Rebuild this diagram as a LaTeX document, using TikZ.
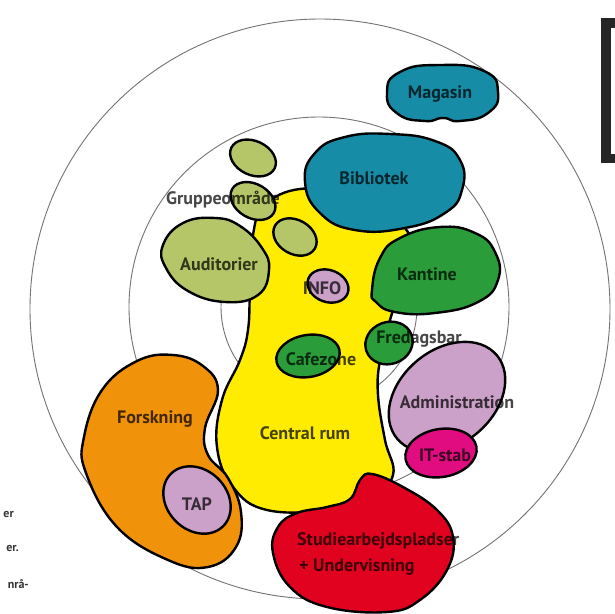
\documentclass[tikz,border=0pt]{standalone}
\usepackage{fontspec}
\setmainfont{PT Sans}
\definecolor{cyellow}{RGB}{255,236,0}
\definecolor{cteal}{RGB}{22,140,166}
\definecolor{colive}{RGB}{181,198,104}
\definecolor{cgreen}{RGB}{42,156,58}
\definecolor{clilac}{RGB}{203,160,201}
\definecolor{cmagenta}{RGB}{224,12,128}
\definecolor{corange}{RGB}{240,146,10}
\definecolor{cred}{RGB}{224,2,30}
\begin{document}
\begin{tikzpicture}[x=1pt,y=-1pt,
  ring/.style={draw=black!55, line width=0.9pt},
  blob/.style={draw=black, line width=2.4pt, line join=round},
  lbl/.style={font=\fontsize{18}{21}\selectfont\bfseries, text=black, text opacity=0.72, inner sep=0pt},
  side/.style={font=\fontsize{12}{13}\selectfont\bfseries, text=black!80, inner sep=0pt, anchor=east}]
\useasboundingbox (0,0) rectangle (614,614);
\fill[white] (0,0) rectangle (614,614);

% concentric zones
\draw[ring] (320,309) circle [radius=290pt];
\draw[ring] (319,307) circle [radius=190pt];
\draw[ring] (319,307) circle [radius=98pt];

% framed panel at the right edge
\fill[black!85] (601,18) rectangle (640,163);
\fill[white] (611,28) rectangle (640,154);

% central room
\draw[blob, fill=cyellow] plot[smooth cycle, tension=0.7] coordinates {
  (265,205) (300,189) (345,195) (390,215) (412,245) (400,290) (390,320)
  (380,360) (378,395) (385,440) (393,475) (370,498) (330,510) (267,510)
  (233,487) (217,447) (222,400) (240,360) (248,330) (250,290) (253,235)};

% library and stacks
\draw[blob, fill=cteal] plot[smooth cycle, tension=0.8] coordinates {
  (305,182) (315,153) (345,137) (390,134) (435,141) (460,160) (462,190)
  (445,213) (405,228) (355,230) (320,213)};
\draw[blob, fill=cteal] plot[smooth cycle, tension=0.9] coordinates {
  (387,93) (400,72) (440,65) (484,71) (498,92) (488,113) (460,121)
  (443,118) (425,121) (398,114)};

% group areas and auditoriums
\draw[blob, fill=colive] (253,158) ellipse [x radius=24pt, y radius=17pt, rotate=-25];
\draw[blob, fill=colive] (253,201) ellipse [x radius=24pt, y radius=17pt, rotate=-30];
\draw[blob, fill=colive] (295,237) ellipse [x radius=23pt, y radius=17pt, rotate=-30];
\draw[blob, fill=colive] plot[smooth cycle, tension=0.75] coordinates {
  (163,245) (183,223) (215,218) (240,226) (262,248) (269,270) (258,295)
  (225,302) (188,291) (166,268)};

% canteen, bar, cafe
\draw[blob, fill=cgreen] plot[smooth cycle, tension=0.8] coordinates {
  (372,290) (380,258) (400,238) (440,227) (475,233) (495,252) (498,280)
  (478,302) (435,313) (395,312) (376,302)};
\draw[blob, fill=cgreen] (389,343) ellipse [x radius=24pt, y radius=21pt, rotate=20];
\draw[blob, fill=cgreen] (308,356) ellipse [x radius=32pt, y radius=21pt, rotate=10];

% info desk
\draw[blob, fill=clilac] (328,286) ellipse [x radius=21pt, y radius=16pt, rotate=-20];

% administration and IT
\draw[blob, fill=clilac] (447,397) ellipse [x radius=65pt, y radius=47pt, rotate=40];
\draw[blob, fill=cmagenta] (441,453) ellipse [x radius=36pt, y radius=24pt, rotate=10];

% research
\draw[blob, fill=corange] plot[smooth cycle, tension=0.7] coordinates {
  (173,355) (203,366) (218,390) (205,428) (208,455) (228,478) (241,512)
  (236,547) (208,567) (168,560) (117,527) (86,473) (84,437) (102,390) (137,361)};
\draw[blob, fill=clilac] (197,500) ellipse [x radius=37pt, y radius=30pt, rotate=-45];

% study places and teaching
\draw[blob, fill=cred] plot[smooth cycle, tension=0.7] coordinates {
  (360,480) (372,474) (403,487) (437,510) (453,537) (447,570) (420,600)
  (387,612) (327,607) (290,587) (273,553) (278,527) (297,513) (327,507) (350,499)};

% labels
\node[lbl] (magasin) at (440,94) {Magasin};
\node[lbl] (bibliotek) at (374,178) {Bibliotek};
\node[lbl] (gruppe) at (223,200) {Gruppeområde};
\node[lbl] (auditorier) at (219,264) {Auditorier};
\node[lbl] (info) at (322,288) {INFO};
\node[lbl] (kantine) at (427,274) {Kantine};
\node[lbl] (fredagsbar) at (419,339) {Fredagsbar};
\node[lbl] (cafezone) at (321,359) {Cafezone};
\node[lbl] (admin) at (457,402) {Administration};
\node[lbl] (itstab) at (445,455) {IT-stab};
\node[lbl] (central) at (305,433) {Central rum};
\node[lbl] (forskning) at (155,419) {Forskning};
\node[lbl] (tap) at (197,504) {TAP};
\node[lbl, anchor=west] (studie) at (297,541) {Studiearbejdspladser};
\node[lbl, anchor=west] (underv) at (299,567) {+ Undervisning};

% clipped margin text
\node[side] (s1) at (14,514) {er};
\node[side] (s2) at (19,548) {er.};
\node[side] (s3) at (29,584) {nrå-};
\end{tikzpicture}
\end{document}
